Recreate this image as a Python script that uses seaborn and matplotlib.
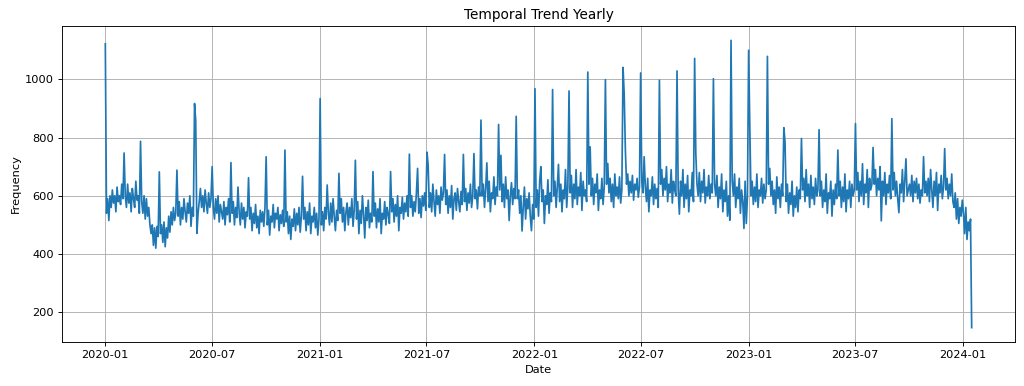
import matplotlib
matplotlib.use("Agg")
import matplotlib.dates as mdates
import matplotlib.pyplot as plt
import numpy as np
import pandas as pd
import seaborn as sns

# Readings taken every second day starting 2020-01-01, one line per month
FREQ_2020 = [
    1122, 540, 590, 515, 600, 560, 620, 575, 600, 545, 630, 580, 600, 570, 640, 590,
    747, 600, 560, 640, 575, 610, 545, 625, 590, 560, 650, 585, 600, 540,
    787, 580, 540, 600, 520, 590, 530, 560, 500, 470, 500, 430, 490, 420, 495, 460,
    682, 470, 500, 440, 510, 425, 490, 455, 530, 475, 545, 500, 560, 515, 540,
    688, 530, 580, 500, 560, 520, 590, 545, 510, 575, 540, 600, 495, 560, 530,
    917, 859, 471, 540, 580, 625, 560, 600, 545, 620, 575, 540, 610, 560, 590,
    700, 560, 520, 590, 540, 600, 510, 570, 545, 520, 580, 500, 560, 535, 590, 510,
    714, 540, 580, 500, 560, 525, 630, 545, 500, 575, 520, 560, 490, 545, 530,
    662, 520, 560, 480, 540, 505, 570, 490, 530, 470, 550, 510, 545, 495, 560,
    734, 500, 550, 465, 530, 510, 570, 490, 540, 520, 560, 480, 535, 505, 550, 495,
    757, 510, 545, 470, 530, 450, 520, 495, 555, 480, 540, 500, 560, 475, 530,
    667, 520, 560, 480, 545, 500, 575, 470, 530, 510, 560, 490, 540, 465, 520,
]
FREQ_2021 = [
    934, 500, 545, 480, 560, 520, 637, 540, 500, 575, 510, 590, 530, 480, 550, 515,
    677, 540, 590, 510, 560, 480, 545, 575, 500, 560, 525, 590, 495, 550,
    722, 520, 580, 470, 550, 505, 600, 535, 455, 560, 515, 585, 490, 540, 510,
    683, 530, 575, 490, 555, 510, 590, 470, 540, 520, 580, 500, 560, 535, 505,
    683, 545, 590, 510, 570, 530, 600, 480, 560, 540, 595, 520, 575, 545, 600, 530,
    743, 560, 600, 530, 580, 545, 610, 694, 540, 590, 525, 600, 565, 610, 550,
    750, 705, 560, 610, 545, 640, 580, 530, 620, 570, 600, 540, 630, 585, 610,
    742, 570, 620, 540, 600, 560, 635, 520, 590, 610, 550, 625, 580, 545, 615, 570,
    742, 580, 625, 550, 610, 575, 640, 560, 600, 745, 590, 620, 555, 630, 600,
    860, 600, 640, 560, 625, 713, 580, 650, 545, 610, 590, 665, 570, 630, 600,
    845, 620, 739, 580, 640, 560, 665, 590, 620, 515, 600, 645, 570, 625, 590,
    873, 590, 620, 540, 600, 479, 560, 630, 520, 590, 555, 610, 530, 480, 570, 520,
]
FREQ_2022 = [
    968, 560, 620, 530, 650, 700, 580, 620, 505, 600, 570, 655, 540, 610, 580,
    965, 600, 650, 560, 630, 708, 580, 640, 545, 620, 590, 690, 560, 630,
    960, 610, 670, 560, 640, 590, 690, 570, 630, 600, 680, 550, 650, 600, 620, 580,
    1025, 640, 768, 600, 660, 570, 640, 610, 675, 550, 620, 590, 660, 570, 630,
    999, 640, 711, 610, 660, 580, 640, 560, 675, 600, 630, 590, 665, 575, 620,
    1041, 951, 757, 640, 675, 600, 650, 610, 670, 585, 640, 620, 660, 595, 630,
    1022, 650, 610, 734, 630, 580, 660, 545, 620, 600, 665, 570, 640, 590, 625, 560,
    997, 640, 690, 600, 660, 620, 700, 580, 640, 610, 690, 575, 650, 620, 600,
    1029, 620, 537, 650, 600, 690, 560, 640, 590, 670, 545, 620, 600, 680, 580,
    1072, 745, 640, 600, 680, 580, 650, 610, 690, 575, 630, 600, 670, 590, 640, 610,
    1002, 640, 600, 670, 560, 630, 590, 675, 545, 620, 580, 650, 530, 600, 516,
    1134, 650, 600, 675, 560, 630, 590, 660, 540, 620, 580, 488, 650, 505, 600,
]
FREQ_2023 = [
    1100, 837, 600, 650, 570, 630, 580, 675, 560, 620, 600, 660, 575, 640, 590, 620,
    1079, 640, 694, 600, 650, 570, 620, 540, 665, 590, 630, 560, 640, 600,
    834, 785, 580, 640, 540, 610, 570, 650, 530, 600, 560, 630, 545, 620, 590,
    797, 620, 660, 580, 690, 600, 640, 560, 670, 590, 630, 570, 660, 600, 620,
    827, 600, 650, 560, 620, 580, 675, 540, 610, 590, 650, 530, 620, 570, 640, 590,
    757, 600, 650, 560, 630, 580, 675, 545, 620, 590, 650, 560, 640, 600, 620,
    848, 620, 680, 580, 650, 600, 710, 570, 640, 610, 690, 560, 660, 620, 640,
    766, 640, 690, 600, 660, 620, 700, 514, 650, 600, 680, 570, 640, 610, 670, 590,
    865, 620, 680, 600, 650, 590, 542, 640, 610, 690, 580, 650, 727, 600, 620,
    640, 600, 670, 580, 650, 610, 660, 590, 640, 575, 620, 600, 734, 610, 650,
    600, 660, 580, 690, 620, 560, 650, 600, 680, 550, 640, 610, 670, 590, 630,
    762, 620, 660, 590, 640, 600, 675, 580, 560, 610, 520, 590, 505, 560, 530, 585,
]
FREQ_2024 = [540, 470, 560, 450, 510, 480, 520, 147]

freq = FREQ_2020 + FREQ_2021 + FREQ_2022 + FREQ_2023 + FREQ_2024
df = pd.DataFrame({
    "Date": pd.date_range("2020-01-01", periods=len(freq), freq="2D"),
    "Frequency": freq,
})

# the reference looks like a larger figure scaled down, so render at a lower dpi
DPI = 82
fig, ax = plt.subplots(figsize=(1024 / DPI, 386 / DPI), dpi=DPI)
sns.lineplot(data=df, x="Date", y="Frequency", ax=ax, color="#1f77b4", linewidth=1.5)
ax.set_title("Temporal Trend Yearly")
ax.set_xlabel("Date")
ax.set_ylabel("Frequency")
ax.xaxis.set_major_locator(mdates.MonthLocator(bymonth=[1, 7]))
ax.xaxis.set_major_formatter(mdates.DateFormatter("%Y-%m"))
ax.grid(True)
fig.subplots_adjust(left=62 / 1024, right=1015 / 1024, bottom=1 - 342 / 386, top=1 - 26 / 386)
fig.savefig("out.png", dpi=DPI)
